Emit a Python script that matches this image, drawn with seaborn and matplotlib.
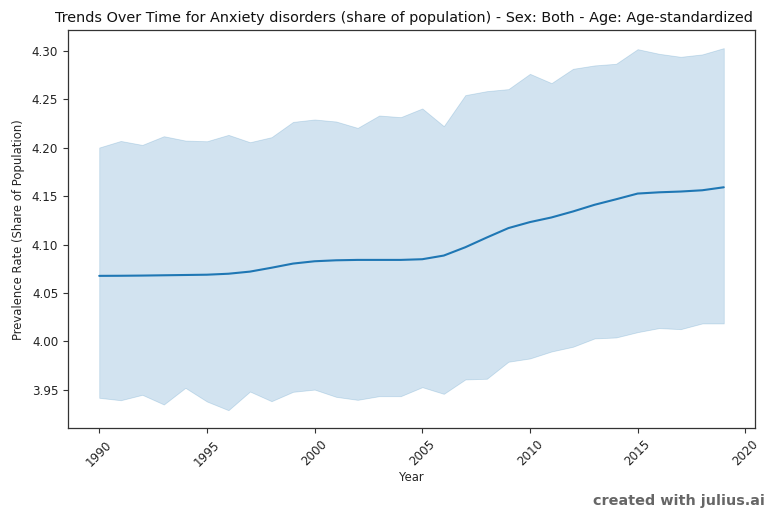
import matplotlib
matplotlib.use("Agg")
import matplotlib.pyplot as plt
import seaborn as sns
import pandas as pd

years = list(range(1990, 2020))
mean_rate = [4.0676, 4.0677, 4.0679, 4.0682, 4.0685, 4.0688, 4.0698, 4.0720, 4.0760, 4.0803,
             4.0827, 4.0837, 4.0841, 4.0841, 4.0841, 4.0848, 4.0886, 4.0972, 4.1073, 4.1170,
             4.1232, 4.1280, 4.1342, 4.1411, 4.1468, 4.1527, 4.1540, 4.1548, 4.1561, 4.1592]
upper_rate = [4.2003, 4.2071, 4.2030, 4.2120, 4.2075, 4.2068, 4.2134, 4.2058, 4.2110, 4.2268,
              4.2293, 4.2272, 4.2206, 4.2334, 4.2317, 4.2407, 4.2224, 4.2545, 4.2586, 4.2607,
              4.2765, 4.2669, 4.2817, 4.2852, 4.2869, 4.3020, 4.2972, 4.2941, 4.2966, 4.3031]
lower_rate = [3.9415, 3.9390, 3.9446, 3.9346, 3.9518, 3.9377, 3.9287, 3.9480, 3.9380, 3.9477,
              3.9500, 3.9425, 3.9394, 3.9432, 3.9432, 3.9525, 3.9456, 3.9605, 3.9612, 3.9788,
              3.9822, 3.9894, 3.9943, 4.0029, 4.0039, 4.0094, 4.0136, 4.0125, 4.0184, 4.0184]
y_ticks = [3.95, 4.00, 4.05, 4.10, 4.15, 4.20, 4.25, 4.30]
x_ticks = [1990, 1995, 2000, 2005, 2010, 2015, 2020]

df = pd.DataFrame({"Year": years, "Mean": mean_rate, "Upper": upper_rate, "Lower": lower_rate})

sns.set_style("ticks")
plt.rcParams["font.family"] = ["DejaVu Sans"]

fig = plt.figure(figsize=(7.71, 5.11), dpi=100)
ax = fig.add_axes([68 / 771, (511 - 428.3) / 511, (755 - 68) / 771, (428.3 - 30) / 511])

blue = "#1f77b4"
ax.fill_between(df["Year"], df["Lower"], df["Upper"], color=blue, alpha=0.2, linewidth=0.6)
sns.lineplot(data=df, x="Year", y="Mean", ax=ax, color=blue, linewidth=1.5)

ax.set_title("Trends Over Time for Anxiety disorders (share of population) - Sex: Both - Age: Age-standardized",
             fontsize=10.4, pad=6, color="#111111", x=0.489)
ax.set_xlabel("Year", fontsize=8.4, labelpad=2)
ax.set_ylabel("Prevalence Rate (Share of Population)", fontsize=8.4, labelpad=5)
ax.set_yticks(y_ticks)
ax.set_yticklabels([f"{v:.2f}" for v in y_ticks])
ax.set_xticks(x_ticks)
ax.tick_params(axis="x", labelrotation=45, labelsize=8.6, colors="#333333", length=3.5)
ax.tick_params(axis="y", labelsize=8.6, colors="#333333", length=3.5)
for lbl in ax.get_xticklabels() + ax.get_yticklabels():
    lbl.set_color("#222222")
for side in ["top", "right", "left", "bottom"]:
    ax.spines[side].set_visible(True)
    ax.spines[side].set_color("#333333")
    ax.spines[side].set_linewidth(0.9)
ax.margins(x=0.05, y=0.05)

fig.text(0.992, 0.006, "created with julius.ai", ha="right", va="bottom",
         fontsize=10.4, fontweight="bold", color="#666666")

fig.savefig("out.png", dpi=100, facecolor="white")
